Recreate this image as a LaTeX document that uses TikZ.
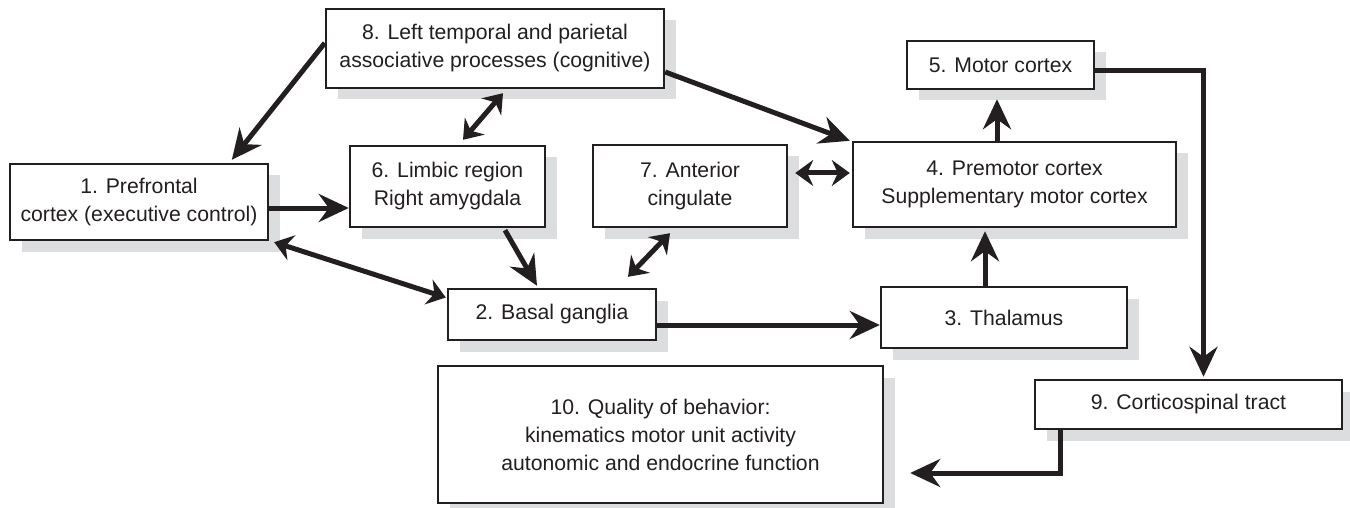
\documentclass[tikz,border=0pt]{standalone}
\usepackage{fontspec}
\setmainfont{Liberation Sans}
\usetikzlibrary{arrows.meta,calc,shadows}
\definecolor{ink}{HTML}{231F20}
\definecolor{shadowgray}{HTML}{DCDDDF}
\tikzset{
  box/.style={draw=ink, line width=1.2pt, fill=white, align=center,
    inner sep=0pt, text=ink, font=\fontsize{10.6}{14}\selectfont,
    drop shadow={shadow xshift=5.75pt, shadow yshift=-5.75pt,
      fill=shadowgray, opacity=1}},
  arr/.style={draw=ink, line width=2.5pt,
    -{Stealth[length=15pt, width=14pt, inset=5pt]}},
  darr/.style={draw=ink, line width=2.5pt,
    {Stealth[length=9pt, width=13pt, inset=3pt]}-{Stealth[length=9pt, width=13pt, inset=3pt]}},
  link/.style={draw=ink, line width=2.5pt},
}
\begin{document}
\begin{tikzpicture}[x=0.5pt, y=-0.5pt]
\useasboundingbox (0,0) rectangle (1350,508);

% boxes (centres in a 1350 x 508 grid, y downwards)
\node[box, minimum width=129pt, minimum height=38pt] (b1) at (139,202)
  {1. Prefrontal\\cortex (executive control)};
\node[box, minimum width=169pt, minimum height=39.5pt] (b8) at (495,48.5)
  {8. Left temporal and parietal\\associative processes (cognitive)};
\node[box, minimum width=97.5pt, minimum height=40.5pt] (b6) at (447.5,186.5)
  {6. Limbic region\\Right amygdala};
\node[box, minimum width=97pt, minimum height=41pt] (b7) at (690,186)
  {7. Anterior\\cingulate};
\node[box, minimum width=161.5pt, minimum height=42.5pt] (b4) at (1014.5,184.5)
  {4. Premotor cortex\\Supplementary motor cortex};
\node[box, minimum width=93.5pt, minimum height=24pt] (b5) at (1000.5,65)
  {5. Motor cortex};
\node[box, minimum width=104pt, minimum height=25.5pt] (b2) at (552,314.5)
  {2. Basal ganglia};
\node[box, minimum width=123pt, minimum height=30.5pt] (b3) at (1004,317.5)
  {3. Thalamus};
\node[box, minimum width=153.5pt, minimum height=24.5pt] (b9) at (1188.5,404.5)
  {9. Corticospinal tract};
\node[box, minimum width=222.5pt, minimum height=68.5pt] (b10) at (660.5,434.5)
  {10. Quality of behavior:\\kinematics motor unit activity\\autonomic and endocrine function};

% one-way connections
\draw[arr] ($(b8.west)+(0,-5.5)$) -- ($(b1.north west)+(223,-3)$);
\draw[arr] ($(b8.east)+(0,23.5)$) -- ($(b4.north west)+(-2,0)$);
\draw[arr] ($(b1.east)+(0,6)$) -- ($(b6.west)+(0,21.5)$);
\draw[arr] ($(b6.south)+(57.5,2)$) -- ($(b2.north)+(-15,-2)$);
\draw[arr] ($(b4.north)+(-17.5,0)$) -- ($(b5.south)+(-3.5,9)$);
\draw[arr] ($(b2.east)+(0,10.5)$) -- ($(b3.west)+(0,7.5)$);
\draw[arr] ($(b3.north)+(-19,0)$) -- ($(b4.south)+(-29.5,3)$);
\draw[arr] ($(b5.east)+(0,6)$) -| ($(b9.north)+(15,-2)$);
\draw[arr] ($(b9.south west)+(27,0)$) |- ($(b10.east)+(26,38.5)$);

% two-way connections
\draw[darr] ($(b8.south)+(8,4)$) -- ($(b6.north)+(15.5,-5)$);
\draw[darr] ($(b1.south east)+(5,1)$) -- ($(b2.west)+(-1,-17)$);
\draw[darr] ($(b7.south)+(-20,5)$) -- ($(b2.north)+(76,-11)$);
\draw[darr] ($(b7.east)+(7,-13)$) -- ($(b4.west)+(-2,-11.5)$);
\end{tikzpicture}
\end{document}
